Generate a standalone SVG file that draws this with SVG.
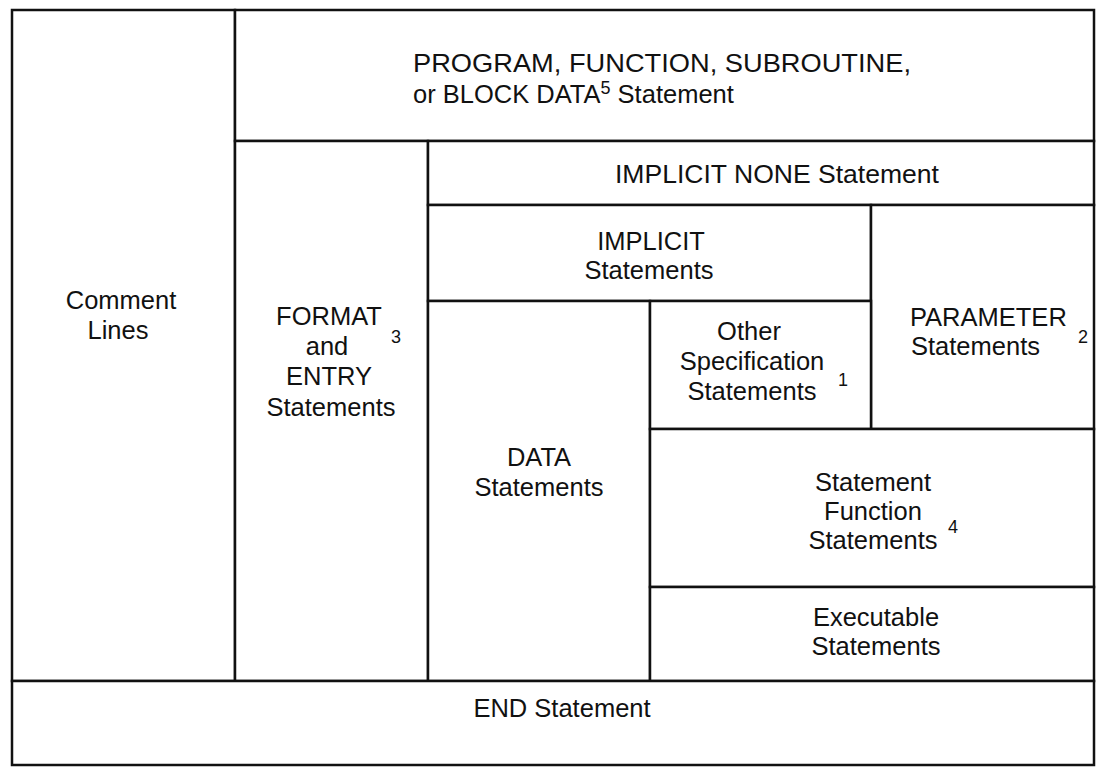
<svg xmlns="http://www.w3.org/2000/svg" width="1096" height="767" viewBox="0 0 1096 767">
<style>
rect.cell{fill:#fff;stroke:#111;stroke-width:2.5}
text{font-family:"Liberation Sans",Arial,Helvetica,sans-serif;font-size:25.5px;fill:#111}
text.c{text-anchor:middle}
text.sup{font-size:18px}
</style>
<rect width="1096" height="767" fill="#fff"/>
<g id="comment"><rect class="cell" x="12" y="10" width="223" height="671"/>
<text class="c" x="121" y="309">Comment</text><text class="c" x="118" y="339">Lines</text></g>
<g id="program"><rect class="cell" x="235" y="10" width="859" height="131"/>
<text x="413" y="72" textLength="498" lengthAdjust="spacingAndGlyphs">PROGRAM, FUNCTION, SUBROUTINE,</text>
<text x="413" y="103">or BLOCK DATA<tspan font-size="18" dy="-9">5</tspan><tspan dy="9"> Statement</tspan></text></g>
<g id="format"><rect class="cell" x="235" y="141" width="193" height="540"/>
<text class="c" x="329" y="325">FORMAT</text><text class="c" x="327" y="355">and</text>
<text class="c" x="329" y="385">ENTRY</text><text class="c" x="331" y="416">Statements</text>
<text class="sup" x="391" y="343">3</text></g>
<g id="implicitnone"><rect class="cell" x="428" y="141" width="666" height="64"/>
<text class="c" x="777" y="183" textLength="324" lengthAdjust="spacingAndGlyphs">IMPLICIT NONE Statement</text></g>
<g id="implicit"><rect class="cell" x="428" y="205" width="443" height="96"/>
<text class="c" x="651" y="250">IMPLICIT</text><text class="c" x="649" y="279">Statements</text></g>
<g id="parameter"><rect class="cell" x="871" y="205" width="223" height="224"/>
<text x="910" y="326">PARAMETER</text><text x="911" y="355">Statements</text>
<text class="sup" x="1078" y="343">2</text></g>
<g id="data"><rect class="cell" x="428" y="301" width="222" height="380"/>
<text class="c" x="539" y="466">DATA</text><text class="c" x="539" y="496">Statements</text></g>
<g id="otherspec"><rect class="cell" x="650" y="301" width="221" height="128"/>
<text class="c" x="749" y="340">Other</text><text class="c" x="752" y="370">Specification</text>
<text class="c" x="752" y="400">Statements</text><text class="sup" x="838" y="386">1</text></g>
<g id="stmtfunc"><rect class="cell" x="650" y="429" width="444" height="158"/>
<text class="c" x="873" y="491">Statement</text><text class="c" x="873" y="520">Function</text>
<text class="c" x="873" y="549">Statements</text><text class="sup" x="948" y="533">4</text></g>
<g id="executable"><rect class="cell" x="650" y="587" width="444" height="94"/>
<text class="c" x="876" y="626">Executable</text><text class="c" x="876" y="655">Statements</text></g>
<g id="end"><rect class="cell" x="12" y="681" width="1082" height="84"/>
<text class="c" x="562" y="717">END Statement</text></g>
<g id="connectors"></g>
</svg>
